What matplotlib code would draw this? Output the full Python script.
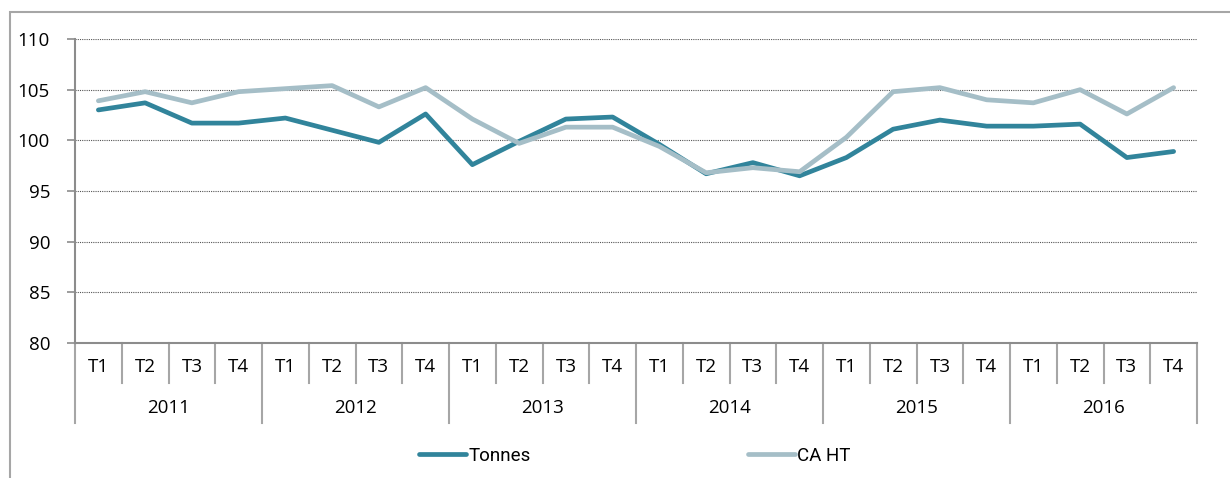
import matplotlib.pyplot as plt
import matplotlib.transforms as mtransforms
from matplotlib.patches import Rectangle

years = ['2011', '2012', '2013', '2014', '2015', '2016']
quarters = ['T1', 'T2', 'T3', 'T4']

tonnes = [103.0, 103.7, 101.7, 101.7,
          102.2, 101.0, 99.8, 102.6,
          97.6, 99.9, 102.1, 102.3,
          99.6, 96.7, 97.8, 96.5,
          98.3, 101.1, 102.0, 101.4,
          101.4, 101.6, 98.3, 98.9]
ca_ht = [103.9, 104.8, 103.7, 104.8,
         105.1, 105.4, 103.3, 105.2,
         102.1, 99.7, 101.3, 101.3,
         99.4, 96.8, 97.3, 96.9,
         100.3, 104.8, 105.2, 104.0,
         103.7, 105.0, 102.6, 105.2]

W, H = 1230, 478
fig = plt.figure(figsize=(W / 100, H / 100), dpi=100)
ax = fig.add_axes([75 / W, 1 - 343 / H, (1197 - 75) / W, (343 - 39) / H])

# outer border (top and left visible)
fig.patches.append(Rectangle((10 / W, -0.1), 1.2, 1 - 12 / H + 0.1, transform=fig.transFigure,
                             fill=False, edgecolor='#a6a6a6', linewidth=1.5))

x = list(range(len(tonnes)))
ax.plot(x, tonnes, color='#31849b', linewidth=3.4, solid_capstyle='round', label='Tonnes', zorder=3)
ax.plot(x, ca_ht, color='#a5bec7', linewidth=3.4, solid_capstyle='round', label='CA HT', zorder=3)

ax.set_xlim(-0.5, len(x) - 0.5)
ax.set_ylim(80, 110)
ax.set_yticks(range(80, 111, 5))
ax.yaxis.grid(True, linestyle=(0, (1, 1)), color='#555555', linewidth=0.8)
ax.set_axisbelow(True)

for s in ['top', 'right']:
    ax.spines[s].set_visible(False)
for s in ['left', 'bottom']:
    ax.spines[s].set_color('#8c8c8c')
    ax.spines[s].set_linewidth(1.5)
ax.tick_params(axis='y', length=6, width=1.2, color='#8c8c8c', pad=12, labelsize=13.5)
ax.set_xticks([])
for lbl in ax.get_yticklabels():
    lbl.set_family('Open Sans')

trans = mtransforms.blended_transform_factory(ax.transData, ax.transAxes)
for i in range(len(x) + 1):
    bottom = -0.263 if i % 4 == 0 else -0.1316
    ax.plot([i - 0.5, i - 0.5], [0, bottom], color='#a6a6a6', linewidth=1.5,
            transform=trans, clip_on=False)
for i in x:
    ax.text(i, -0.079, quarters[i % 4], transform=trans, ha='center', va='center',
            fontsize=13.5, family='Open Sans')
for j, yr in enumerate(years):
    ax.text(j * 4 + 1.5, -0.214, yr, transform=trans, ha='center', va='center',
            fontsize=13.5, family='Open Sans')

fig.legend(loc='center', bbox_to_anchor=(0.516, 1 - 456 / H), ncol=2, frameon=False,
           handlelength=2.5, handletextpad=0.1, columnspacing=11.6,
           prop={'family': ['Roboto', 'DejaVu Sans'], 'size': 13.5})

fig.savefig('out.png', dpi=100)
